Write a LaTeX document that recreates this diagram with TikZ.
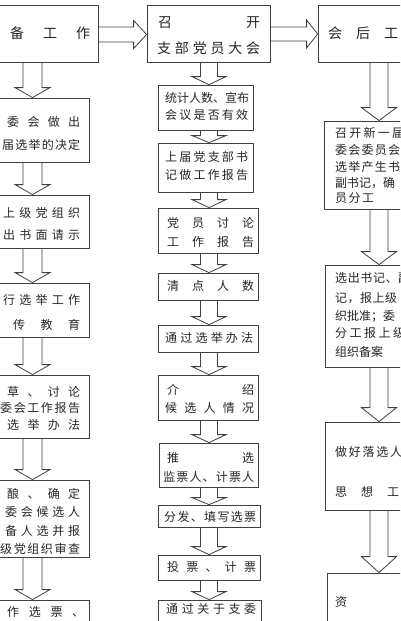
\documentclass[tikz,border=0pt]{standalone}
\usepackage{fontspec}
\newfontfamily\cjk{Noto Sans CJK SC}
\usetikzlibrary{fit,calc}
\makeatletter
\def\sprd#1{\sprd@#1\sprd@end}
\def\sprd@#1{\ifx#1\sprd@end\else#1\expandafter\sprd@sep\fi}
\def\sprd@sep#1{\ifx#1\sprd@end\else\hfil#1\expandafter\sprd@sep\fi}
\makeatother
\newcommand\fbody{\cjk\fontsize{12}{14}\selectfont}
\newcommand\ftitle{\cjk\fontsize{14}{16}\selectfont}
\tikzset{
  box/.style={draw=black!75, line width=0.8pt, inner sep=0pt},
  arr/.style={draw=black!75, line width=0.8pt},
  txt/.style={inner sep=0pt, text=black!85}
}
% name, x1, x2, y, text, font
\newcommand\tl[6]{\node[txt,font=#6,anchor=west] (#1) at (#2,#4) {\hbox to \dimexpr #3pt-#2pt\relax{\sprd{#5}}};}
% name, x1, y1, x2, y2
\newcommand\bx[5]{\node[box, fit={(#2,#3)(#4,#5)}] (#1) {};}
% upper, lower, cx, shaft half, head half, head length
\newcommand\darr[6]{\draw[arr] let \p1=(#1.south), \p2=(#2.north) in
 (#3pt-#4pt,\y1) -- (#3pt-#4pt,\y2+#6pt) -- (#3pt-#5pt,\y2+#6pt) -- (#3pt,\y2) -- (#3pt+#5pt,\y2+#6pt) -- (#3pt+#4pt,\y2+#6pt) -- (#3pt+#4pt,\y1);}
% left, right, cy, shaft half, head half, head length
\newcommand\harr[6]{\draw[arr] let \p1=(#1.east), \p2=(#2.west) in
 (\x1,-#3pt+#4pt) -- (\x2-#6pt,-#3pt+#4pt) -- (\x2-#6pt,-#3pt+#5pt) -- (\x2,-#3pt) -- (\x2-#6pt,-#3pt-#5pt) -- (\x2-#6pt,-#3pt-#4pt) -- (\x1,-#3pt-#4pt);}
\begin{document}
\begin{tikzpicture}[x=1pt,y=-1pt]
\useasboundingbox (0,0) rectangle (400,621);
\fill[white] (0,0) rectangle (400,621);
\clip (0,0) rectangle (400,621);
% ---------- left column ----------
\bx{L1}{-20}{5}{98}{62}
\bx{L2}{-20}{98}{89}{162}
\bx{L3}{-20}{195}{89}{248}
\bx{L4}{-20}{283}{89}{337}
\bx{L5}{-20}{375}{89}{438}
\bx{L6}{-20}{480}{89}{557}
\bx{L7}{-20}{600}{89}{660}
\tl{l1a}{10}{90}{33}{备工作}{\ftitle}
\tl{l2a}{7}{80}{122}{委会做出}{\fbody}
\tl{l2b}{2}{80}{145}{届选举的决定}{\fbody}
\tl{l3a}{3}{80}{213}{上级党组织}{\fbody}
\tl{l3b}{3}{80}{235}{出书面请示}{\fbody}
\tl{l4a}{3}{80}{300}{行选举工作}{\fbody}
\tl{l4b}{13}{80}{325}{传教育}{\fbody}
\tl{l5a}{7}{80}{392}{草、讨论}{\fbody}
\tl{l5b}{0}{80}{408}{委会工作报告}{\fbody}
\tl{l5c}{7}{80}{425}{选举办法}{\fbody}
\tl{l6a}{7}{80}{494}{酿、确定}{\fbody}
\tl{l6b}{5}{80}{512}{委会候选人}{\fbody}
\tl{l6c}{5}{80}{531}{备人选并报}{\fbody}
\tl{l6d}{0}{80}{549}{级党组织审查}{\fbody}
\tl{l7a}{7}{84}{612}{作选票、}{\fbody}
\darr{L1}{L2}{32.5}{9.5}{17.5}{10}
\darr{L2}{L3}{32.5}{9.5}{17.5}{10}
\darr{L3}{L4}{32.5}{9.5}{17.5}{10}
\darr{L4}{L5}{32.5}{9.5}{17.5}{10}
\darr{L5}{L6}{32.5}{9.5}{17.5}{10}
\darr{L6}{L7}{32.5}{9.5}{17.5}{10}
% ---------- middle column ----------
\bx{M0}{147}{5}{270}{62}
\bx{M1}{158}{85}{253}{130}
\bx{M2}{158}{143}{253}{192}
\bx{M3}{158}{208}{258}{253}
\bx{M4}{158}{273}{258}{300}
\bx{M5}{158}{325}{258}{352}
\bx{M6}{158}{375}{258}{420}
\bx{M7}{159}{443}{258}{487}
\bx{M8}{158}{505}{260}{527}
\bx{M9}{158}{555}{260}{580}
\bx{M10}{158}{600}{261}{660}
\tl{m0a}{158}{260}{23}{召开}{\ftitle}
\tl{m0b}{157}{260}{48}{支部党员大会}{\ftitle}
\tl{m1a}{165}{248}{98}{统计人数、宣布}{\fbody}
\tl{m1b}{165}{248}{115}{会议是否有效}{\fbody}
\tl{m2a}{165}{248}{157}{上届党支部书}{\fbody}
\tl{m2b}{165}{248}{175}{记做工作报告}{\fbody}
\tl{m3a}{167}{254}{223}{党员讨论}{\fbody}
\tl{m3b}{167}{254}{242}{工作报告}{\fbody}
\tl{m4a}{167}{254}{286}{清点人数}{\fbody}
\tl{m5a}{165}{253}{338}{通过选举办法}{\fbody}
\tl{m6a}{167}{254}{390}{介绍}{\fbody}
\tl{m6b}{165}{254}{408}{候选人情况}{\fbody}
\tl{m7a}{167}{254}{458}{推选}{\fbody}
\tl{m7b}{163}{254}{477}{监票人、计票人}{\fbody}
\tl{m8a}{164}{256}{517}{分发、填写选票}{\fbody}
\tl{m9a}{167}{256}{567}{投票、计票}{\fbody}
\tl{m10a}{166}{256}{609}{通过关于支委}{\fbody}
\darr{M0}{M1}{209}{8.5}{17}{8}
\darr{M1}{M2}{209}{8.5}{17}{7}
\darr{M2}{M3}{209}{8.5}{17}{8}
\darr{M3}{M4}{209}{8.5}{17}{8}
\darr{M4}{M5}{209}{8.5}{17}{8}
\darr{M5}{M6}{209}{8.5}{17}{8}
\darr{M6}{M7}{209}{8.5}{17}{8}
\darr{M7}{M8}{209}{8.5}{17}{7}
\darr{M8}{M9}{209}{8.5}{17}{8}
\darr{M9}{M10}{209}{8.5}{17}{8}
% ---------- right column ----------
\bx{R0}{318}{5}{430}{62}
\bx{R1}{324}{121}{430}{209}
\bx{R2}{325}{265}{430}{367}
\bx{R3}{325}{422}{430}{510}
\bx{R4}{327}{573}{430}{660}
\tl{r0a}{328}{398}{33}{会后工}{\ftitle}
\tl{r1a}{335}{404}{133}{召开新一届}{\fbody}
\tl{r1b}{335}{400}{150}{委会委员会}{\fbody}
\tl{r1c}{335}{400}{167}{选举产生书}{\fbody}
\tl{r1d}{335}{395}{183}{副书记，确}{\fbody}
\tl{r1e}{335}{374}{198}{员分工}{\fbody}
\tl{r2a}{335}{410}{278}{选出书记、副}{\fbody}
\tl{r2b}{335}{397}{298}{记，报上级}{\fbody}
\tl{r2c}{335}{394}{316}{织批准；委}{\fbody}
\tl{r2d}{335}{405}{333}{分工报上级}{\fbody}
\tl{r2e}{335}{375}{352}{组织备案}{\fbody}
\tl{r3a}{335}{402}{452}{做好落选人}{\fbody}
\tl{r3b}{335}{399}{492}{思想工}{\fbody}
\tl{r4a}{335}{347}{602}{资}{\fbody}
\darr{R0}{R1}{379}{9}{17.5}{13}
\darr{R1}{R2}{379}{9}{17.5}{13}
\darr{R2}{R3}{379}{9}{17.5}{14}
\darr{R3}{R4}{379}{9}{17.5}{16}
% ---------- horizontal ----------
\harr{L1}{M0}{34.5}{7.5}{14}{13}
\harr{M0}{R0}{34}{7}{14}{11}
\end{tikzpicture}
\end{document}
